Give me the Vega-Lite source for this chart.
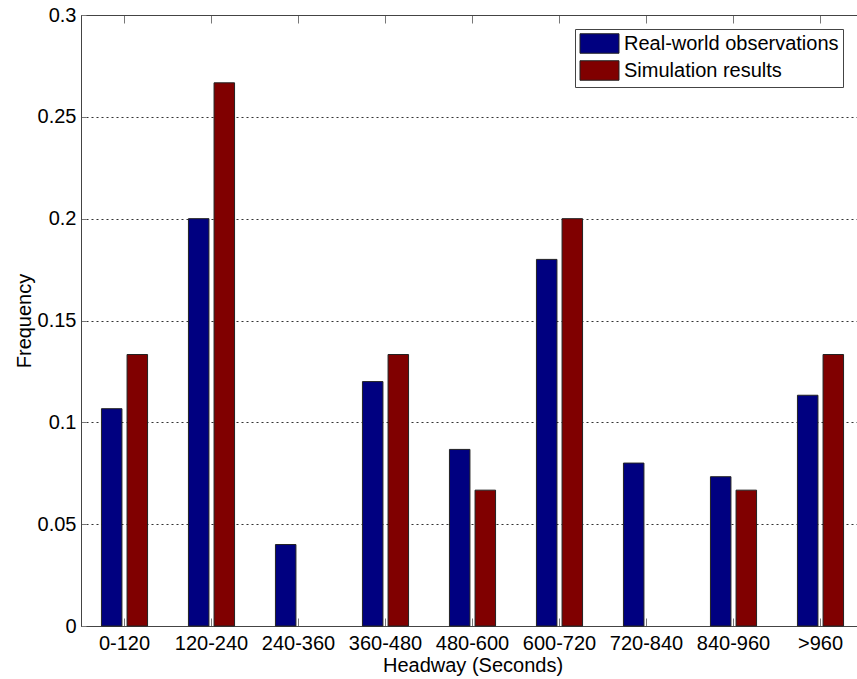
{
  "$schema": "https://vega.github.io/schema/vega-lite/v6.json",
  "autosize": {"type": "none"},
  "width": 776,
  "height": 611,
  "padding": {"left": 81, "top": 15, "right": 0, "bottom": 53},
  "background": "white",
  "view": {"stroke": null},
  "config": {
    "font": "Liberation Sans",
    "axis": {
      "labelFont": "Liberation Sans",
      "labelFontSize": 20,
      "labelColor": "black",
      "titleFont": "Liberation Sans",
      "titleFontSize": 20,
      "titleFontWeight": "normal",
      "titleColor": "black",
      "domainColor": "#444444",
      "domainWidth": 1,
      "tickColor": "#777777"
    },
    "legend": {
      "labelFont": "Liberation Sans",
      "labelFontSize": 20,
      "labelColor": "black",
      "labelLimit": 400
    }
  },
  "data": {
    "values": [
      {"headway": "0-120", "series": "Real-world observations", "freq": 0.1067},
      {"headway": "0-120", "series": "Simulation results", "freq": 0.1333},
      {"headway": "120-240", "series": "Real-world observations", "freq": 0.2},
      {"headway": "120-240", "series": "Simulation results", "freq": 0.2667},
      {"headway": "240-360", "series": "Real-world observations", "freq": 0.04},
      {"headway": "240-360", "series": "Simulation results", "freq": 0},
      {"headway": "360-480", "series": "Real-world observations", "freq": 0.12},
      {"headway": "360-480", "series": "Simulation results", "freq": 0.1333},
      {"headway": "480-600", "series": "Real-world observations", "freq": 0.0867},
      {"headway": "480-600", "series": "Simulation results", "freq": 0.0667},
      {"headway": "600-720", "series": "Real-world observations", "freq": 0.18},
      {"headway": "600-720", "series": "Simulation results", "freq": 0.2},
      {"headway": "720-840", "series": "Real-world observations", "freq": 0.08},
      {"headway": "720-840", "series": "Simulation results", "freq": 0},
      {"headway": "840-960", "series": "Real-world observations", "freq": 0.0733},
      {"headway": "840-960", "series": "Simulation results", "freq": 0.0667},
      {"headway": ">960", "series": "Real-world observations", "freq": 0.1133},
      {"headway": ">960", "series": "Simulation results", "freq": 0.1333}
    ]
  },
  "resolve": {"axis": {"x": "independent"}},
  "layer": [
    {
      "transform": [{"filter": "datum.freq > 0"}],
      "mark": {"type": "bar", "stroke": "#222222", "strokeWidth": 1},
      "encoding": {
        "x": {
          "field": "headway",
          "type": "nominal",
          "sort": ["0-120", "120-240", "240-360", "360-480", "480-600", "600-720", "720-840", "840-960", ">960"],
          "scale": {
            "domain": ["0-120", "120-240", "240-360", "360-480", "480-600", "600-720", "720-840", "840-960", ">960"],
            "range": [0, 783],
            "paddingInner": 0.47,
            "paddingOuter": 0.235
          },
          "axis": {
            "title": "Headway (Seconds)",
            "labelAngle": 0,
            "tickSize": -8,
            "labelPadding": 15,
            "titlePadding": 2,
            "grid": false
          }
        },
        "xOffset": {
          "field": "series",
          "type": "nominal",
          "scale": {
            "domain": ["Real-world observations", "Simulation results"],
            "paddingInner": 0.2,
            "paddingOuter": 0
          }
        },
        "y": {
          "field": "freq",
          "type": "quantitative",
          "scale": {"domain": [0, 0.3], "nice": false},
          "axis": {
            "title": "Frequency",
            "values": [0, 0.05, 0.1, 0.15, 0.2, 0.25, 0.3],
            "format": "~g",
            "tickSize": -5,
            "labelPadding": 10,
            "labelFlush": false,
            "labelOverlap": false,
            "titlePadding": 3,
            "grid": true,
            "gridColor": "#333333",
            "gridDash": [2, 3],
            "gridWidth": 1
          }
        },
        "color": {
          "field": "series",
          "type": "nominal",
          "scale": {
            "domain": ["Real-world observations", "Simulation results"],
            "range": ["#000080", "#800000"]
          },
          "legend": {
            "title": null,
            "orient": "none",
            "legendX": 494,
            "legendY": 14,
            "symbolType": "M-2,-1H2V1H-2Z",
            "symbolSize": 380,
            "symbolOffset": 10,
            "symbolStrokeColor": "#222222",
            "symbolStrokeWidth": 1,
            "labelOffset": 14,
            "rowPadding": 2,
            "padding": 4,
            "strokeColor": "#444444",
            "fillColor": "white"
          }
        }
      }
    },
    {
      "mark": {"type": "tick", "opacity": 0},
      "encoding": {
        "x": {
          "field": "headway",
          "type": "nominal",
          "sort": ["0-120", "120-240", "240-360", "360-480", "480-600", "600-720", "720-840", "840-960", ">960"],
          "axis": {
            "orient": "top",
            "title": null,
            "labels": false,
            "tickSize": -8,
            "grid": false
          }
        }
      }
    }
  ]
}
